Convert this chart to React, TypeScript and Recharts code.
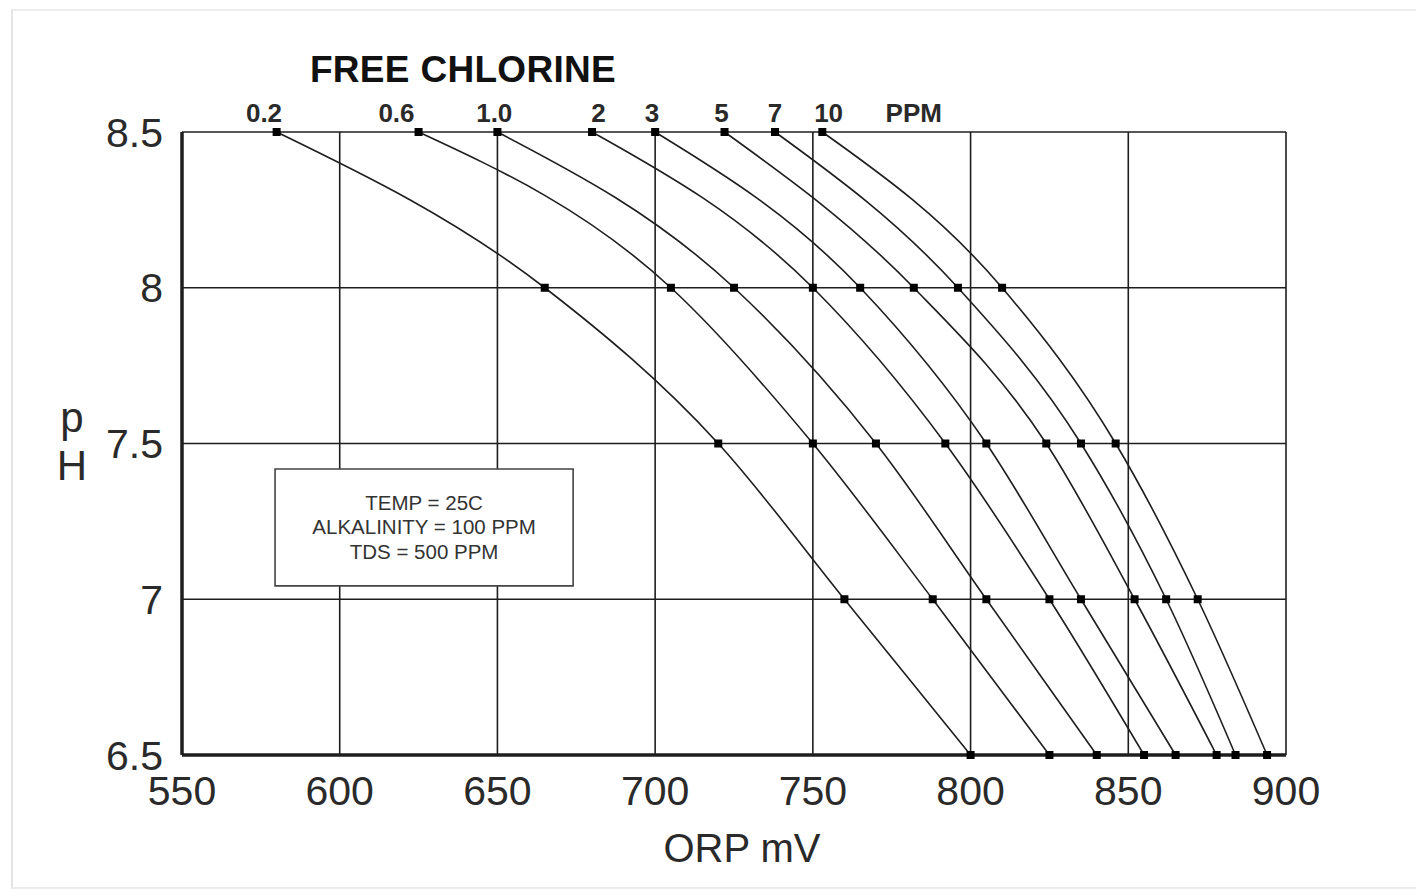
import React from 'react';
import { LineChart, Line, XAxis, YAxis, CartesianGrid, ReferenceArea, ReferenceDot } from 'recharts';

// Free chlorine levels (PPM), one curve each
const ppmLevels = ['0.2', '0.6', '1.0', '2', '3', '5', '7', '10'];
// pH values at which each curve's points are read
const phLevels = [8.5, 8, 7.5, 7, 6.5];
// ORP (mV) for each curve at the pH levels above
const orp0_2 = [580, 665, 720, 760, 800];
const orp0_6 = [625, 705, 750, 788, 825];
const orp1_0 = [650, 725, 770, 805, 840];
const orp2 = [680, 750, 792, 825, 855];
const orp3 = [700, 765, 805, 835, 865];
const orp5 = [722, 782, 824, 852, 878];
const orp7 = [738, 796, 835, 862, 884];
const orp10 = [753, 810, 846, 872, 894];

const xTicks = [550, 600, 650, 700, 750, 800, 850, 900];
const yTicks = [6.5, 7, 7.5, 8, 8.5];
// ORP values where the top PPM labels sit
const topTickValues = [576, 618, 649, 682, 699, 721, 738, 755, 782];
const topTickLabels = [...ppmLevels, 'PPM'];
const conditions = ['TEMP = 25C', 'ALKALINITY = 100 PPM', 'TDS = 500 PPM'];
const boxOrp = [579.5, 674];
const boxPh = [7.043, 7.418];

const allOrp = [orp0_2, orp0_6, orp1_0, orp2, orp3, orp5, orp7, orp10];
const series = allOrp.map((arr, i) => ({
  name: ppmLevels[i],
  data: arr.map((orp, j) => ({ orp, ph: phLevels[j] })),
}));

const FONT = '"Liberation Sans", Arial, Helvetica, sans-serif';
const INK = '#1e1e1e';

const SquareDot = (props: any) => {
  const { cx, cy } = props;
  if (cx == null || cy == null) return null;
  return <rect x={cx - 4} y={cy - 4} width={8} height={8} fill="#000" />;
};

const BoxLabel = (props: any) => {
  const vb = props.viewBox || {};
  const cx = vb.x + vb.width / 2;
  const cy = vb.y + vb.height / 2;
  return (
    <text x={cx} textAnchor="middle" fontFamily={FONT} fontSize={20.5} fill="#333">
      {conditions.map((c, i) => (
        <tspan key={i} x={cx} y={cy + (i - 1) * 24.5 + 7}>
          {c}
        </tspan>
      ))}
    </text>
  );
};

const TopLabel = (props: any) => {
  const vb = props.viewBox || {};
  const x = vb.cx != null ? vb.cx : vb.x + (vb.width || 0) / 2;
  const y = vb.cy != null ? vb.cy : vb.y;
  return (
    <text x={x} y={y - 10} textAnchor="middle" fontFamily={FONT} fontSize={26} fontWeight={700} fill="#2a2a2a">
      {props.value}
    </text>
  );
};

export default function App() {
  return (
    <div style={{ position: 'absolute', left: 0, top: 0, width: 1416, height: 889, background: '#fff', overflow: 'hidden' }}>
      <div
        style={{
          position: 'absolute',
          left: 11,
          top: 9,
          width: 1420,
          height: 876,
          borderLeft: '2px solid #e4e4e4',
          borderTop: '2px solid #ececec',
          borderBottom: '2px solid #ececec',
        }}
      />
      <LineChart
        width={1416}
        height={889}
        margin={{ top: 132, right: 130, bottom: 74, left: 102 }}
        style={{ position: 'absolute', left: 0, top: 0 }}
      >
        <CartesianGrid stroke={INK} strokeWidth={1.6} horizontalValues={yTicks} verticalValues={xTicks} />
        <XAxis
          type="number"
          dataKey="orp"
          domain={[550, 900]}
          ticks={xTicks}
          interval={0}
          height={60}
          tickSize={0}
          tickMargin={21}
          axisLine={{ stroke: INK, strokeWidth: 3.5 }}
          tickLine={false}
          tick={{ fontFamily: FONT, fontSize: 41, fill: '#2a2a2a' }}
        />
        <YAxis
          type="number"
          domain={[6.5, 8.5]}
          ticks={yTicks}
          interval={0}
          width={80}
          tickSize={0}
          tickMargin={19}
          axisLine={{ stroke: INK, strokeWidth: 3.5 }}
          tickLine={false}
          tickFormatter={(v: number) => String(v)}
          tick={{ fontFamily: FONT, fontSize: 41, fill: '#2a2a2a' }}
        />
        <ReferenceArea
          x1={boxOrp[0]}
          x2={boxOrp[1]}
          y1={boxPh[0]}
          y2={boxPh[1]}
          fill="#fff"
          fillOpacity={1}
          stroke="#444"
          strokeWidth={1.6}
          label={<BoxLabel />}
          ifOverflow="visible"
        />
        {series.map((s) => (
          <Line
            key={s.name}
            data={s.data}
            dataKey="ph"
            name={s.name}
            type="monotone"
            stroke={INK}
            strokeWidth={1.6}
            dot={<SquareDot />}
            activeDot={false}
            isAnimationActive={false}
          />
        ))}
        {topTickValues.map((v, i) => (
          <ReferenceDot
            key={'lbl' + i}
            x={v}
            y={8.5}
            r={0}
            fill="none"
            stroke="none"
            ifOverflow="visible"
            label={<TopLabel value={topTickLabels[i]} />}
          />
        ))}
      </LineChart>
      <svg width={1416} height={889} style={{ position: 'absolute', left: 0, top: 0, pointerEvents: 'none' }}>
        <text x={463} y={82} textAnchor="middle" fontFamily={FONT} fontSize={37} fontWeight={700} fill="#111" letterSpacing={0.3}>
          FREE CHLORINE
        </text>
        <text x={72} y={432} textAnchor="middle" fontFamily={FONT} fontSize={42} fill="#2a2a2a">
          p
        </text>
        <text x={72} y={480} textAnchor="middle" fontFamily={FONT} fontSize={42} fill="#2a2a2a">
          H
        </text>
        <text x={742} y={862} textAnchor="middle" fontFamily={FONT} fontSize={40} fill="#2a2a2a">
          ORP mV
        </text>
      </svg>
    </div>
  );
}
